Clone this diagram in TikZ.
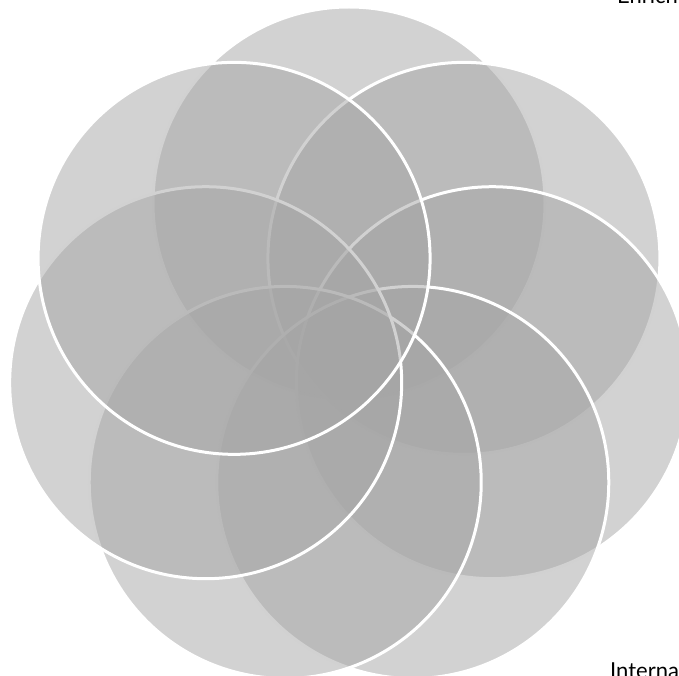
\documentclass[tikz,border=0pt]{standalone}
\usepackage{fontspec}
\setmainfont{Lato}
\definecolor{petalgray}{HTML}{A5A5A5}
\begin{document}
\begin{tikzpicture}[x=1pt,y=-1pt,
  petal/.style={fill=petalgray, fill opacity=0.5, draw=white, draw opacity=1, line width=3pt},
  label/.style={font=\fontsize{22}{26}\selectfont, text=black, inner sep=0pt, anchor=base west}]
\useasboundingbox (0,0) rectangle (679,676);
\clip (0,0) rectangle (679,676);
% seven overlapping circles, drawn clockwise from the top
\foreach \a/\n in {90/p1, 38.571/p2, -12.857/p3, -64.286/p4, -115.714/p5, -167.143/p6, 141.429/p7}{
  \coordinate (\n) at ({349+147*cos(\a)},{350-147*sin(\a)});
  \path[petal] (\n) circle[radius=196pt];
}
\node[label] (t1) at (617,4) {Enriche};
\node[label] (t2) at (610,678) {Interna};
\end{tikzpicture}
\end{document}
